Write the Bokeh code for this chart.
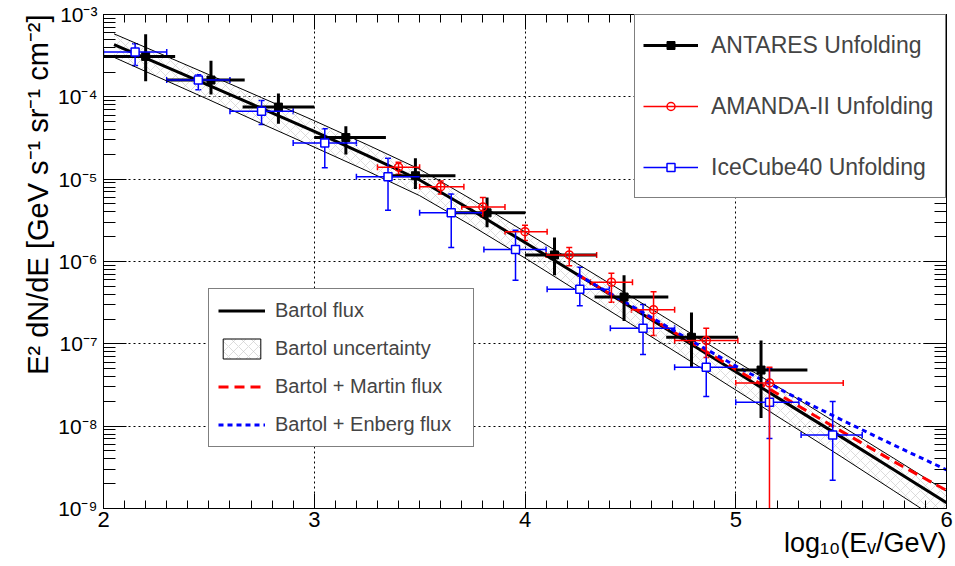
import numpy as np
from bokeh.plotting import figure
from bokeh.models import (ColumnDataSource, FixedTicker, LinearAxis, LogAxis, Legend,
                          LegendItem, Whisker, TeeHead, Title)
from bokeh.embed import file_html
from bokeh.resources import INLINE

# ---------------- data ----------------
# ANTARES unfolding
antares_x = [2.20, 2.51, 2.83, 3.15, 3.48, 3.82, 4.14, 4.47, 4.79, 5.12]
antares_xlo = [2.00, 2.30, 2.66, 3.00, 3.34, 3.67, 4.00, 4.33, 4.67, 5.00]
antares_xhi = [2.34, 2.67, 3.00, 3.34, 3.67, 4.00, 4.34, 4.68, 5.01, 5.34]
antares_y = [3.1e-4, 1.6e-4, 7.5e-5, 3.2e-5, 1.1e-5, 3.9e-6, 1.2e-6, 3.7e-7, 1.2e-7, 4.8e-8]
antares_ylo = [1.55e-4, 1.07e-4, 4.7e-5, 2.0e-5, 7.6e-6, 2.6e-6, 6.8e-7, 1.9e-7, 5.1e-8, 1.26e-8]
antares_yhi = [5.75e-4, 2.75e-4, 1.1e-4, 4.4e-5, 1.8e-5, 6.0e-6, 1.95e-6, 6.8e-7, 2.4e-7, 1.1e-7]

# AMANDA-II unfolding (last lower error runs off the bottom of the axis)
amanda_x = [3.40, 3.60, 3.80, 4.00, 4.21, 4.41, 4.61, 4.86, 5.16]
amanda_xlo = [3.30, 3.50, 3.70, 3.905, 4.10, 4.31, 4.505, 4.71, 5.00]
amanda_xhi = [3.50, 3.71, 3.905, 4.105, 4.34, 4.51, 4.71, 5.01, 5.51]
amanda_y = [1.4e-5, 8.1e-6, 4.6e-6, 2.3e-6, 1.2e-6, 5.6e-7, 2.6e-7, 1.1e-7, 3.35e-8]
amanda_ylo = [1.15e-5, 6.6e-6, 3.5e-6, 1.8e-6, 8.9e-7, 3.2e-7, 1.26e-7, 6.8e-8, 1e-12]
amanda_yhi = [1.6e-5, 9.5e-6, 6.0e-6, 2.75e-6, 1.48e-6, 7.2e-7, 4.3e-7, 1.55e-7, 5.2e-8]

# IceCube40 unfolding
icecube_x = [2.15, 2.45, 2.75, 3.05, 3.35, 3.65, 3.955, 4.26, 4.56, 4.86, 5.16, 5.46]
icecube_xlo = [2.00, 2.30, 2.60, 2.90, 3.20, 3.50, 3.805, 4.105, 4.405, 4.71, 5.00, 5.31]
icecube_xhi = [2.30, 2.60, 2.90, 3.20, 3.50, 3.80, 4.10, 4.40, 4.71, 5.00, 5.30, 5.60]
icecube_y = [3.5e-4, 1.6e-4, 6.7e-5, 2.75e-5, 1.07e-5, 3.9e-6, 1.4e-6, 4.6e-7, 1.55e-7, 5.2e-8, 1.95e-8, 7.8e-9]
icecube_ylo = [2.4e-4, 1.22e-4, 4.6e-5, 1.38e-5, 4.2e-6, 1.48e-6, 5.9e-7, 2.9e-7, 7.4e-8, 2.3e-8, 7.1e-9, 2.2e-9]
icecube_yhi = [4.4e-4, 1.86e-4, 9.0e-5, 4.1e-5, 1.8e-5, 6.6e-6, 2.4e-6, 8.5e-7, 3.0e-7, 1.17e-7, 5.0e-8, 2.0e-8]

# Bartol conventional flux and its uncertainty band
bartol_x = [2.05, 2.25, 2.5, 2.75, 3.0, 3.25, 3.5, 3.75, 4.0, 4.25, 4.5, 4.75, 5.0, 5.25, 5.5, 5.75, 6.0]
bartol_c = [4.32e-4, 2.60e-4, 1.38e-4, 7.24e-5, 3.80e-5, 1.95e-5, 9.77e-6, 4.17e-6, 1.70e-6,
            6.92e-7, 2.82e-7, 1.135e-7, 4.57e-8, 1.84e-8, 7.41e-9, 2.95e-9, 1.175e-9]
bartol_hi = [5.82e-4, 3.51e-4, 1.86e-4, 9.77e-5, 5.13e-5, 2.63e-5, 1.32e-5, 5.62e-6, 2.29e-6,
             9.33e-7, 3.80e-7, 1.53e-7, 6.17e-8, 2.51e-8, 1.01e-8, 4.07e-9, 1.62e-9]
bartol_lo = [3.02e-4, 1.78e-4, 9.23e-5, 4.73e-5, 2.45e-5, 1.26e-5, 6.31e-6, 2.69e-6, 1.10e-6,
             4.37e-7, 1.76e-7, 7.0e-8, 2.75e-8, 1.08e-8, 4.27e-9, 1.64e-9, 6.31e-10]

# Bartol + prompt models
prompt_x = [4.25, 4.5, 4.75, 5.0, 5.25, 5.5, 5.75, 6.0]
martin_y = [6.92e-7, 2.88e-7, 1.19e-7, 4.90e-8, 2.07e-8, 8.71e-9, 3.72e-9, 1.66e-9]
enberg_y = [6.92e-7, 2.95e-7, 1.245e-7, 5.37e-8, 2.48e-8, 1.20e-8, 5.89e-9, 2.95e-9]

# axis ticks
x_major = [2, 3, 4, 5, 6]
y_exponents = [-9, -8, -7, -6, -5, -4, -3]

FONT = "Liberation Sans"
RED = "#ff0000"
BLUE = "#0000ff"

# ---------------- figure ----------------
p = figure(width=955, height=566, x_range=(2, 6), y_range=(1e-9, 1e-3),
           y_axis_type="log", output_backend="svg", toolbar_location=None,
           min_border_left=103, min_border_right=9, min_border_top=14, min_border_bottom=58)
p.background_fill_color = "white"
p.border_fill_color = "white"
p.outline_line_color = "black"
p.outline_line_width = 1

sup = str.maketrans("-0123456789", "⁻⁰¹²³⁴⁵⁶⁷⁸⁹")
y_major = [10.0 ** e for e in y_exponents]
y_minor = [k * 10.0 ** e for e in y_exponents[:-1] for k in range(2, 10)]
x_minor = [round(2 + 0.1 * i, 2) for i in range(41)]
y_labels = {10.0 ** e: "10" + str(e).translate(sup) for e in y_exponents}


def style_axis(ax, maj, mnr, size="21px"):
    ax.axis_line_color = "black"
    ax.axis_line_width = 1
    ax.major_tick_line_color = "black"
    ax.minor_tick_line_color = "black"
    ax.major_tick_in = maj
    ax.major_tick_out = 0
    ax.minor_tick_in = mnr
    ax.minor_tick_out = 0
    ax.major_label_text_font = FONT
    ax.major_label_text_color = "black"
    ax.major_label_text_font_size = size


xa = p.xaxis[0]
xa.ticker = FixedTicker(ticks=x_major, minor_ticks=x_minor)
style_axis(xa, 15, 8, "22px")
xa.major_label_standoff = 3

ya = p.yaxis[0]
ya.ticker = FixedTicker(ticks=y_major, minor_ticks=y_minor)
ya.major_label_overrides = y_labels
style_axis(ya, 23, 12, "21px")
ya.major_label_standoff = 6

# mirrored tick marks on the right and top edges (no labels)
ra = LogAxis(ticker=FixedTicker(ticks=y_major, minor_ticks=y_minor))
style_axis(ra, 23, 12)
ra.major_label_overrides = {v: "" for v in y_major}
ra.major_label_standoff = 0
p.add_layout(ra, "right")
ta = LinearAxis(ticker=FixedTicker(ticks=x_major, minor_ticks=x_minor))
style_axis(ta, 15, 8)
ta.major_label_overrides = {v: "" for v in x_major}
ta.major_label_standoff = 0
p.add_layout(ta, "above")

p.xgrid.ticker = FixedTicker(ticks=x_major[1:-1])
p.ygrid.ticker = FixedTicker(ticks=y_major[1:-1])
for g in (p.xgrid, p.ygrid):
    g.grid_line_color = "black"
    g.grid_line_width = 1
    g.grid_line_dash = "2 3"

# ---------------- Bartol band and model curves ----------------
band_src = ColumnDataSource(dict(x=bartol_x, lo=bartol_lo, hi=bartol_hi, c=bartol_c))
HATCH = dict(hatch_pattern="diagonal_cross", hatch_color="#c4c4c4", hatch_weight=0.6, hatch_scale=10)
p.varea(x="x", y1="lo", y2="hi", source=band_src, fill_color=None, fill_alpha=0, **HATCH)
p.line("x", "hi", source=band_src, line_color="black", line_width=1)
p.line("x", "lo", source=band_src, line_color="black", line_width=1)
band_leg = p.patch(bartol_x + bartol_x[::-1], bartol_hi + bartol_lo[::-1],
                   fill_color=None, fill_alpha=0, line_color="black", line_width=1,
                   visible=False, **HATCH)
bartol_r = p.line("x", "c", source=band_src, line_color="black", line_width=3)
prompt_src = ColumnDataSource(dict(x=prompt_x, m=martin_y, e=enberg_y))
martin_r = p.line("x", "m", source=prompt_src, line_color=RED, line_width=3, line_dash="10 6")
enberg_r = p.line("x", "e", source=prompt_src, line_color=BLUE, line_width=3, line_dash="5 4")


# ---------------- data points ----------------
def points(x, xlo, xhi, y, ylo, yhi, color, lw, caps):
    src = ColumnDataSource(dict(x=x, xlo=xlo, xhi=xhi, y=y, ylo=ylo, yhi=yhi))
    h = p.segment(x0="xlo", y0="y", x1="xhi", y1="y", source=src, line_color=color, line_width=lw)
    p.segment(x0="x", y0="ylo", x1="x", y1="yhi", source=src, line_color=color, line_width=lw)
    if caps:
        for base, lo, hi, dim in (("y", "xlo", "xhi", "width"), ("x", "ylo", "yhi", "height")):
            p.add_layout(Whisker(source=src, base=base, lower=lo, upper=hi, dimension=dim,
                                 line_alpha=0,
                                 upper_head=TeeHead(size=6, line_color=color, line_width=lw),
                                 lower_head=TeeHead(size=6, line_color=color, line_width=lw)))
    return src, h


ant_src, ant_h = points(antares_x, antares_xlo, antares_xhi, antares_y, antares_ylo, antares_yhi,
                        "black", 3, False)
ant_m = p.scatter("x", "y", source=ant_src, marker="square", size=8, fill_color="black",
                  line_color="black")
ice_src, ice_h = points(icecube_x, icecube_xlo, icecube_xhi, icecube_y, icecube_ylo, icecube_yhi,
                        BLUE, 1.5, True)
ice_m = p.scatter("x", "y", source=ice_src, marker="square", size=8, fill_color="white",
                  line_color=BLUE, line_width=1.5)
ama_src, ama_h = points(amanda_x, amanda_xlo, amanda_xhi, amanda_y, amanda_ylo, amanda_yhi,
                        RED, 1.5, True)
ama_m = p.scatter("x", "y", source=ama_src, marker="circle", size=8, fill_color=None,
                  line_color=RED, line_width=1.5)

# ---------------- legends ----------------
leg1 = Legend(items=[LegendItem(label="ANTARES Unfolding", renderers=[ant_h, ant_m]),
                     LegendItem(label="AMANDA-II Unfolding", renderers=[ama_h, ama_m]),
                     LegendItem(label="IceCube40 Unfolding", renderers=[ice_h, ice_m])],
              location="top_right", margin=0, padding=8, spacing=17,
              glyph_width=55, glyph_height=20, label_height=44, label_width=226,
              label_standoff=13, label_text_font=FONT, label_text_font_size="23px",
              border_line_color="black", border_line_width=1,
              background_fill_color="white", background_fill_alpha=1)
p.add_layout(leg1)

leg2 = Legend(items=[LegendItem(label="Bartol flux", renderers=[bartol_r]),
                     LegendItem(label="Bartol uncertainty", renderers=[band_leg]),
                     LegendItem(label="Bartol + Martin flux", renderers=[martin_r]),
                     LegendItem(label="Bartol + Enberg flux", renderers=[enberg_r])],
              location=(105, 61), margin=0, padding=9, spacing=13,
              glyph_width=47, glyph_height=25, label_height=25, label_width=189,
              label_standoff=10, label_text_font=FONT, label_text_font_size="20px",
              border_line_color="black", border_line_width=1,
              background_fill_color="white", background_fill_alpha=1)
p.add_layout(leg2)

# ---------------- axis titles (right-aligned, ROOT style) ----------------
p.add_layout(Title(text="E² dN/dE [GeV s⁻¹ sr⁻¹ cm⁻²]", align="right", standoff=3,
                   text_font=FONT, text_font_size="29px", text_font_style="normal",
                   text_color="black"), "left")
p.add_layout(Title(text="log₁₀(Eᵥ/GeV)", align="right", standoff=-8,
                   text_font=FONT, text_font_size="27px", text_font_style="normal",
                   text_color="black"), "below")

open("out.html", "w").write(file_html(p, INLINE))
